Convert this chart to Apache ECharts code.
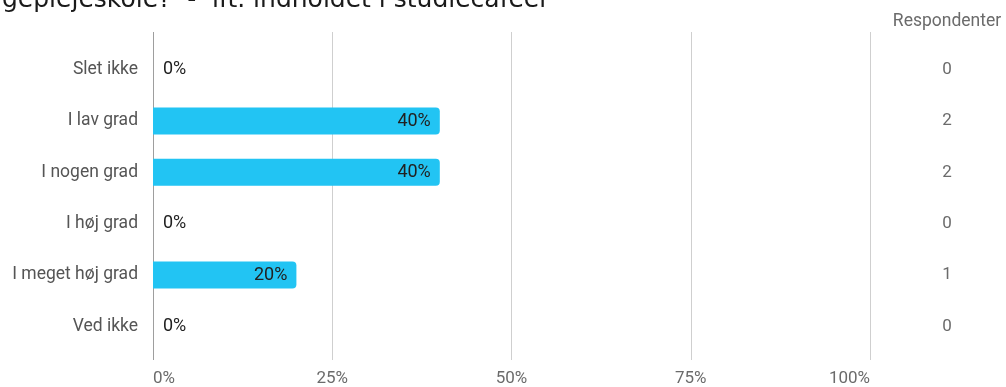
<!DOCTYPE html>
<html>
<head>
<meta charset="utf-8">
<script src="https://cdn.jsdelivr.net/npm/echarts@6/dist/echarts.min.js"></script>
<style>
  html, body { margin: 0; padding: 0; background: #fff; }
  #chart { width: 1006px; height: 387px; }
</style>
</head>
<body>
<div id="chart"></div>
<script>
// Answer options, top to bottom
const categories = ['Slet ikke', 'I lav grad', 'I nogen grad', 'I høj grad', 'I meget høj grad', 'Ved ikke'];
// Share of respondents per option (%)
const percents = [0, 40, 40, 0, 20, 0];
// Number of respondents per option
const respondents = [0, 2, 2, 0, 1, 0];
// Value-axis ticks (%)
const percentTicks = [0, 25, 50, 75, 100];

const titleText = 'geplejeskole?  -  ift. indholdet i studiecaféer';

const chart = echarts.init(document.getElementById('chart'));

const GRID_LEFT = 153, GRID_RIGHT = 136;

chart.setOption({
  animation: false,
  textStyle: { fontFamily: 'Roboto' },
  graphic: [{
    type: 'text',
    left: 2,
    top: -12,
    style: {
      text: titleText,
      font: '25px "DejaVu Sans"',
      fill: '#1a1a1a'
    }
  }],
  grid: [
    // gridlines span slightly beyond the bar rows
    { left: GRID_LEFT, right: GRID_RIGHT, top: 32, height: 331 },
    // bar rows
    { left: GRID_LEFT, right: GRID_RIGHT, top: 44, height: 308 }
  ],
  xAxis: [
    {
      gridIndex: 0,
      type: 'value',
      min: percentTicks[0],
      max: percentTicks[percentTicks.length - 1],
      interval: percentTicks[1] - percentTicks[0],
      axisLine: { show: false },
      axisTick: { show: false },
      splitLine: { show: true, lineStyle: { color: ['#9e9e9e', '#cfcfcf', '#cfcfcf', '#cfcfcf', '#cfcfcf'], width: 1 } },
      axisLabel: {
        formatter: '{value}%', color: '#6b6b6b', fontSize: 17, margin: 10, fontFamily: 'Roboto',
        alignMinLabel: 'left', alignMaxLabel: 'right'
      }
    },
    {
      gridIndex: 1,
      type: 'value',
      min: percentTicks[0],
      max: percentTicks[percentTicks.length - 1],
      show: false
    }
  ],
  yAxis: [
    {
      gridIndex: 0,
      type: 'value',
      show: false
    },
    {
      gridIndex: 1,
      type: 'category',
      data: categories,
      inverse: true,
      axisLine: { show: false },
      axisTick: { show: false },
      splitLine: { show: false },
      axisLabel: { color: '#555', fontSize: 17.5, margin: 15, fontFamily: 'Roboto' }
    },
    {
      gridIndex: 1,
      type: 'category',
      data: respondents.map(String),
      inverse: true,
      position: 'right',
      offset: 77,
      axisLine: { show: false },
      axisTick: { show: false },
      splitLine: { show: false },
      axisLabel: { color: '#6b6b6b', fontSize: 17, margin: 0, align: 'center', fontFamily: 'Roboto' },
      name: 'Respondenter',
      nameLocation: 'start',
      nameGap: 13,
      nameTextStyle: { color: '#6b6b6b', fontSize: 17.5, align: 'center', fontFamily: 'Roboto' }
    }
  ],
  series: [{
    type: 'bar',
    xAxisIndex: 1,
    yAxisIndex: 1,
    barWidth: 27,
    data: percents.map(v => ({
      value: v,
      label: v > 0 ? { position: 'insideRight', distance: 9 } : { position: 'right', distance: 10 }
    })),
    itemStyle: { color: '#22c4f3', borderRadius: [0, 4, 4, 0] },
    label: {
      show: true,
      formatter: '{c}%',
      color: '#212121',
      fontSize: 18,
      fontFamily: 'Roboto'
    }
  }]
});
</script>
</body>
</html>
